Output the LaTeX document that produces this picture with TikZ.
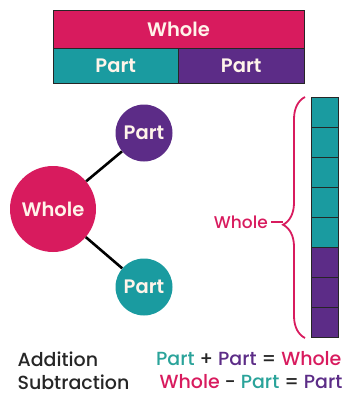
\documentclass[tikz,border=0pt]{standalone}
\usepackage{fontspec}
\setmainfont{Poppins}[UprightFont={* Medium}, BoldFont={* SemiBold}]
\usetikzlibrary{decorations.pathreplacing}

\definecolor{wholepink}{HTML}{D81B5E}
\definecolor{partteal}{HTML}{1A9BA0}
\definecolor{partpurple}{HTML}{5C2C87}
\definecolor{labelcream}{HTML}{FFF4EA}
\definecolor{eqteal}{HTML}{2AA39A}
\definecolor{inkgrey}{HTML}{262626}

\begin{document}
\begin{tikzpicture}[x=1pt, y=-1pt, font=\fontsize{19}{21}\selectfont,
    barcell/.style={rectangle, draw=inkgrey, line width=0.8pt, text=labelcream, inner sep=0pt, font=\fontsize{19.5}{21}\selectfont\bfseries},
    bubble/.style={circle, inner sep=0pt, text=labelcream, font=\fontsize{19.5}{21}\selectfont\bfseries},
    unitsq/.style={rectangle, draw=inkgrey, line width=0.8pt, minimum width=27pt, minimum height=30pt, inner sep=0pt}]
    \useasboundingbox (0,0) rectangle (347,396);

    % bar model
    \node[barcell, fill=wholepink, minimum width=251pt, minimum height=38pt] (barwhole) at (178.5,29) {Whole};
    \node[barcell, fill=partteal, minimum width=125.5pt, minimum height=35pt] (barpartA) at (115.75,65.5) {Part};
    \node[barcell, fill=partpurple, minimum width=125.5pt, minimum height=35pt] (barpartB) at (241.25,65.5) {Part};

    % part-whole model
    \node[bubble, fill=wholepink, minimum size=86pt] (cwhole) at (53,209) {Whole};
    \node[bubble, fill=partpurple, minimum size=57pt] (cpartA) at (144,133) {Part};
    \node[bubble, fill=partteal, minimum size=57pt] (cpartB) at (144,287) {Part};
    \draw[line width=2.6pt, black] (cwhole) -- (cpartA);
    \draw[line width=2.6pt, black] (cwhole) -- (cpartB);

    % unit column
    \foreach \i in {0,...,7} {
        \ifnum\i<5
            \node[unitsq, fill=partteal] (sq\i) at (324.5,112+30*\i) {};
        \else
            \node[unitsq, fill=partpurple] (sq\i) at (324.5,112+30*\i) {};
        \fi
    }
    \coordinate (brbot) at (305,338);
    \coordinate (brtop) at (305,97);
    \draw[wholepink, line width=1.8pt, decorate, decoration={brace, amplitude=22pt, aspect=0.47}] (brbot) -- (brtop);
    \coordinate (brtip) at (283,222);
    \node[text=wholepink, anchor=east, inner sep=0pt, font=\fontsize{17}{20}\selectfont] (wlabel) at (268,222) {Whole};
    \draw[wholepink, line width=1.8pt] ([xshift=3pt]wlabel.east) -- (brtip);

    % sums
    \node[text=inkgrey, anchor=west] (addlbl) at (14,359) {Addition};
    \node[text=inkgrey, anchor=west] (sublbl) at (14,382) {Subtraction};
    \node[anchor=east, text=inkgrey] (addeq) at (345,359) {\textcolor{eqteal}{Part} + \textcolor{partpurple}{Part} = \textcolor{wholepink}{Whole}};
    \node[anchor=east, text=inkgrey] (subeq) at (346,382) {\textcolor{wholepink}{Whole} - \textcolor{eqteal}{Part} = \textcolor{partpurple}{Part}};

\end{tikzpicture}
\end{document}
